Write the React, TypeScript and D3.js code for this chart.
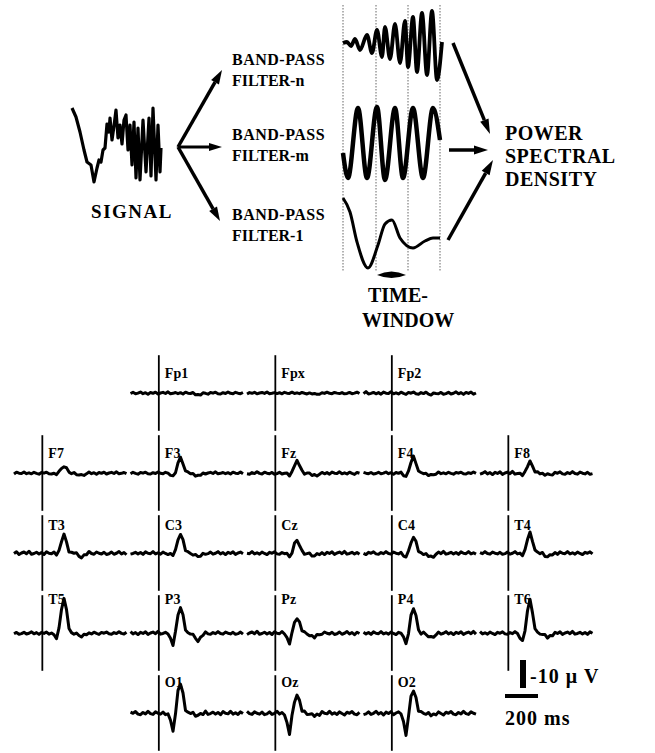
import * as d3 from 'd3';
import { useEffect, useRef } from 'react';

const W = 655;
const H = 753;
const SERIF = "'Liberation Serif', 'DejaVu Serif', serif";

// raw signal (time index, amplitude up)
const SIGNAL_T = [0, 4, 8, 12, 15, 19, 22, 25, 27, 29, 31, 33, 35, 37, 38, 40, 42, 44, 46, 48, 50, 52, 54, 56, 58, 60, 62, 64, 66, 68, 71, 74, 77, 79, 81, 84, 86, 88, 89];
const SIGNAL_V = [37, 28, 13, -5, -17, -20, -37, -23, -15, -17, -5, -3, 21, 13, 27, 5, 19, 35, 7, 20, 1, 25, 30, -5, 20, -20, 23, -33, 17, -35, 25, -27, 27, -31, 37, -35, 20, -27, -3];

// band-pass outputs (time index, amplitude up)
const BAND_N_T = [0, 4, 8, 12, 17, 24, 29, 34, 39, 42, 47, 52, 57, 62, 65, 70, 74, 79, 84, 89, 94, 99];
const BAND_N_V = [0, 1, -3, 4, -7, 8, -10, 13, -14, 16, -16, 19, -20, 22, -24, 26, -29, 30, -32, 32, -37, 1];
const BAND_M_T = [0, 5, 15, 24, 34, 42, 52, 60, 70, 80, 90, 97];
const BAND_M_V = [-10, -35, 35, -35, 36, -37, 35, -35, 35, -35, 35, 3];
const BAND_1_T = [0, 7, 14, 25, 35, 42, 49, 57, 70, 82, 90, 97];
const BAND_1_V = [32, 18, -12, -38, -15, 6, 10, -8, -18, -11, -8, -8];
const WINDOW_EDGES = [0, 33, 65, 97];

// EEG channels
const CHANNELS = ['Fp1', 'Fpx', 'Fp2', 'F7', 'F3', 'Fz', 'F4', 'F8', 'T3', 'C3', 'Cz', 'C4', 'T4', 'T5', 'P3', 'Pz', 'P4', 'T6', 'O1', 'Oz', 'O2'];
const CH_ROW = [0, 0, 0, 1, 1, 1, 1, 1, 2, 2, 2, 2, 2, 3, 3, 3, 3, 3, 4, 4, 4];
const CH_COL = [1, 2, 3, 0, 1, 2, 3, 4, 0, 1, 2, 3, 4, 0, 1, 2, 3, 4, 1, 2, 3];
// component amplitudes in µV (negative is drawn up)
const PEAK = [0, 0, 0, -2.5, -5.4, -4.3, -5.6, -3.9, -6.4, -7.1, -4.6, -5.7, -7.1, -12.5, -9.3, -5.7, -8.9, -11.8, -10.7, -6.4, -8.2];
const EARLY_DIP = [0, 0, 0, 0.4, 1.2, 0.8, 1.2, 0.6, 0.4, 0.8, 1.2, 1.2, 0.4, 1.8, 4, 3.5, 3.5, 3, 6, 7.5, 7.5];
const LATE_DIP = [0.6, 0.4, 0.4, 0.8, 1, 1, 0.8, 0.6, 1.2, 1.2, 1, 1.5, 1.2, 1.2, 2.5, 1.5, 1.5, 1.5, 0.8, 0.8, 0.6];
const NOISE_AMP = [0.6, 0.5, 0.7, 0.6, 0.6, 0.7, 0.6, 0.8, 0.9, 0.8, 0.8, 0.8, 0.8, 0.7, 0.8, 0.9, 0.8, 0.8, 1, 1, 1];

// shared background wiggle (µV) and component shapes (sample index, weight)
const NOISE = [0.3, -0.4, 0.5, 0.1, -0.6, 0.4, -0.2, 0.7, -0.3, 0.2, -0.5, 0.6, 0.0, -0.4, 0.3, -0.7, 0.5, 0.2, -0.3, 0.4, -0.2, 0.6, -0.5, 0.1, 0.3, -0.6, 0.4, -0.1, 0.5, -0.4, 0.2, 0.7, -0.3, 0.1, -0.5, 0.4, 0.6, -0.2, 0.3, -0.6, 0.2, 0.5, -0.4, 0.1, 0.4, -0.3, 0.6];
const PEAK_IDX = [18, 19, 20, 21, 22, 23];
const PEAK_W = [0.15, 0.7, 1, 0.65, 0.15, 0.0];
const EARLY_IDX = [16, 17, 18];
const EARLY_W = [0.5, 1, 0.3];
const LATE_IDX = [25, 26, 27, 28, 29];
const LATE_W = [0.3, 0.7, 1, 0.7, 0.3];

const LABEL_DY = [-15, -15, -23, -29, -26];

function weight(idx: number[], w: number[], k: number) {
  const j = idx.indexOf(k);
  return j < 0 ? 0 : w[j];
}

function arrow(
  g: d3.Selection<SVGGElement, unknown, null, undefined>,
  x1: number, y1: number, x2: number, y2: number,
  sw: number, hl: number, hw: number,
) {
  const a = Math.atan2(y2 - y1, x2 - x1);
  const bx = x2 - hl * Math.cos(a);
  const by = y2 - hl * Math.sin(a);
  g.append('line')
    .attr('x1', x1).attr('y1', y1).attr('x2', bx).attr('y2', by)
    .attr('stroke', '#000').attr('stroke-width', sw);
  const px = -Math.sin(a) * hw / 2;
  const py = Math.cos(a) * hw / 2;
  g.append('path')
    .attr('d', `M${x2},${y2}L${bx + px},${by + py}L${bx - px},${by - py}Z`)
    .attr('fill', '#000');
}

export default function App() {
  const ref = useRef<SVGSVGElement | null>(null);

  useEffect(() => {
    if (!ref.current) return;
    const svg = d3.select(ref.current);
    svg.selectAll('*').remove();
    const g = svg.append('g').style('font-family', SERIF).style('font-weight', 'bold');

    // --- signal ---
    const sx = d3.scaleLinear().domain([0, 89]).range([72, 161]);
    const sy = d3.scaleLinear().domain([-40, 40]).range([185, 105]);
    g.append('path')
      .attr('d', d3.line<number>().x((_, i) => sx(SIGNAL_T[i])).y((d) => sy(d))(SIGNAL_V))
      .attr('fill', 'none').attr('stroke', '#000').attr('stroke-width', 3.2)
      .attr('stroke-linejoin', 'round');
    g.append('text').attr('x', 132).attr('y', 218).attr('text-anchor', 'middle')
      .style('font-size', '19px').attr('letter-spacing', 1.5).text('SIGNAL');

    // --- arrows to filters ---
    arrow(g, 178, 147, 222, 70, 3.5, 14, 9);
    arrow(g, 178, 147, 222, 147, 3, 13, 8);
    arrow(g, 178, 147, 220, 221, 3.5, 14, 9);

    const filterLabels = [['FILTER-n', 65], ['FILTER-m', 140], ['FILTER-1', 220]] as const;
    filterLabels.forEach(([lab, y]) => {
      const t = g.append('text').attr('x', 232).attr('y', y).style('font-size', '16px');
      t.append('tspan').attr('x', 232).attr('letter-spacing', 0.5).text('BAND-PASS');
      t.append('tspan').attr('x', 232).attr('dy', 21).text(lab);
    });

    // --- band outputs ---
    const fx = d3.scaleLinear().domain([0, 97]).range([343, 440]);
    WINDOW_EDGES.forEach((e) => {
      g.append('line').attr('x1', fx(e)).attr('x2', fx(e)).attr('y1', 5).attr('y2', 272)
        .attr('stroke', '#666').attr('stroke-width', 1).attr('stroke-dasharray', '1.5 1.5');
    });
    const bands = [
      { t: BAND_N_T, v: BAND_N_V, mid: 43, sw: 3.8 },
      { t: BAND_M_T, v: BAND_M_V, mid: 143, sw: 4.5 },
      { t: BAND_1_T, v: BAND_1_V, mid: 230, sw: 3 },
    ];
    bands.forEach((b) => {
      const by = d3.scaleLinear().domain([-40, 40]).range([b.mid + 40, b.mid - 40]);
      g.append('path')
        .attr('d', d3.line<number>().x((_, i) => fx(b.t[i])).y((d) => by(d)).curve(d3.curveMonotoneX)(b.v))
        .attr('fill', 'none').attr('stroke', '#000').attr('stroke-width', b.sw)
        .attr('stroke-linejoin', 'round');
    });
    const lx1 = fx(WINDOW_EDGES[1]) + 1;
    const lx2 = fx(WINDOW_EDGES[2]) - 2;
    const lm = (lx1 + lx2) / 2;
    g.append('path').attr('d', `M${lx1},275Q${lm},268 ${lx2},275Q${lm},281 ${lx1},275Z`).attr('fill', '#000');
    g.append('text').attr('x', 368).attr('y', 302).style('font-size', '20px').text('TIME-');
    g.append('text').attr('x', 362).attr('y', 327).style('font-size', '20px').text('WINDOW');

    // --- arrows to PSD ---
    arrow(g, 453, 43, 490, 134, 3.5, 15, 9);
    arrow(g, 449, 150, 488, 150, 3.5, 14, 9);
    arrow(g, 448, 240, 493, 160, 3.5, 15, 9);
    ['POWER', 'SPECTRAL', 'DENSITY'].forEach((s, i) => {
      g.append('text').attr('x', 505).attr('y', 140 + i * 23).style('font-size', '20px')
        .attr('letter-spacing', 0.5).text(s);
    });

    // --- EEG grid ---
    const col = d3.scaleLinear().domain([0, 4]).range([42, 508]);
    const row = d3.scaleLinear().domain([0, 4]).range([393, 713]);
    const times = d3.range(-170, 506, 15);
    CHANNELS.forEach((name, i) => {
      const x0 = col(CH_COL[i]);
      const base = row(CH_ROW[i]);
      const x = d3.scaleLinear().domain([-170, 505]).range([x0 - 28, x0 + 84.5]);
      const y = d3.scaleLinear().domain([0, 10]).range([base, base + 28]);
      const vals = times.map((_, k) =>
        NOISE[(k + i * 7) % NOISE.length] * NOISE_AMP[i]
        + PEAK[i] * weight(PEAK_IDX, PEAK_W, k)
        + EARLY_DIP[i] * weight(EARLY_IDX, EARLY_W, k)
        + LATE_DIP[i] * weight(LATE_IDX, LATE_W, k));
      g.append('line').attr('x1', x(0)).attr('x2', x(0)).attr('y1', y(-13.5)).attr('y2', y(13.5))
        .attr('stroke', '#000').attr('stroke-width', 1.8);
      g.append('path')
        .attr('d', d3.line<number>().x((_, k) => x(times[k])).y((d) => y(d))(vals))
        .attr('fill', 'none').attr('stroke', '#000').attr('stroke-width', 3)
        .attr('stroke-linejoin', 'round');
      g.append('text').attr('x', x(0) + 6).attr('y', base + LABEL_DY[CH_ROW[i]])
        .style('font-size', '14px').text(name);
    });

    // --- scale bars ---
    const bx = d3.scaleLinear().domain([0, 200]).range([505, 505 + 33]);
    const byS = d3.scaleLinear().domain([0, 10]).range([688, 660]);
    g.append('rect').attr('x', 520).attr('y', byS(10)).attr('width', 6).attr('height', byS(0) - byS(10)).attr('fill', '#000');
    g.append('text').attr('x', 530).attr('y', 683).style('font-size', '20px').attr('letter-spacing', 1).text('-10 μ V');
    g.append('rect').attr('x', bx(0)).attr('y', 694).attr('width', bx(200) - bx(0)).attr('height', 4).attr('fill', '#000');
    g.append('text').attr('x', 505).attr('y', 725).style('font-size', '20px').attr('letter-spacing', 1).text('200 ms');
  }, []);

  return (
    <svg
      ref={ref}
      width={W}
      height={H}
      style={{ position: 'absolute', left: 0, top: 0, background: '#fff' }}
    />
  );
}
